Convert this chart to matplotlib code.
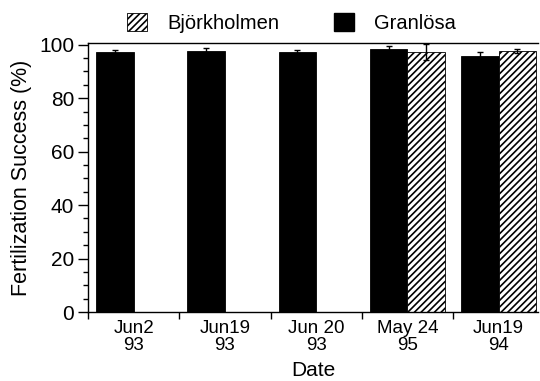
import numpy as np
import matplotlib
matplotlib.use("Agg")
import matplotlib.pyplot as plt
from matplotlib.patches import Patch
from matplotlib.ticker import MultipleLocator, FixedLocator

plt.rcParams['font.family'] = ['Liberation Sans', 'DejaVu Sans']
plt.rcParams['hatch.linewidth'] = 1.2

# donnees
dates = ["Jun2\n93", "Jun19\n93", "Jun 20\n93", "May 24\n95", "Jun19\n94"]
granlosa = [97.1, 97.5, 97.1, 98.5, 95.6]
granlosa_err = [0.8, 1.3, 1.0, 0.9, 1.7]
bjorkholmen = [np.nan, np.nan, np.nan, 97.1, 97.6]
bjorkholmen_err = [np.nan, np.nan, np.nan, 3.0, 0.8]

fig = plt.figure(figsize=(5.4, 3.81), dpi=100)
ax = fig.add_axes([0.163, 0.181, 0.833, 0.706])

x = np.arange(len(dates))
w = 0.41

ax.bar(x - w / 2, granlosa, w, color="black", edgecolor="black", linewidth=0.6,
       yerr=granlosa_err, error_kw=dict(ecolor="black", elinewidth=1.0, capsize=2.5, capthick=1.0))
ax.bar(x + w / 2, bjorkholmen, w, color="white", edgecolor="black", linewidth=0.6,
       hatch="/////", yerr=bjorkholmen_err,
       error_kw=dict(ecolor="black", elinewidth=1.0, capsize=2.5, capthick=1.0))

ax.set_xlim(-0.5, 4.43)
ax.set_ylim(0, 100.6)

ax.spines["right"].set_visible(False)
for s in ["left", "bottom", "top"]:
    ax.spines[s].set_linewidth(1.0)

ax.yaxis.set_major_locator(MultipleLocator(20))
ax.yaxis.set_minor_locator(MultipleLocator(5))
ax.tick_params(axis="y", which="major", length=7, width=1.0, labelsize=15, pad=3)
ax.tick_params(axis="y", which="minor", length=3.5, width=1.0)

ax.set_xticks(x)
ax.set_xticklabels(dates, fontsize=13.5, linespacing=1.0)
ax.xaxis.set_minor_locator(FixedLocator(np.arange(-0.5, 4.0, 1.0)))
ax.tick_params(axis="x", which="major", length=0, pad=6)
ax.tick_params(axis="x", which="minor", length=5, width=1.0)

ax.set_ylabel("Fertilization Success (%)", fontsize=15.5, labelpad=5)
ax.set_xlabel("Date", fontsize=15, labelpad=5)

handles = [Patch(facecolor="white", edgecolor="black", hatch="/////", linewidth=0.6),
           Patch(facecolor="black", edgecolor="black")]
fig.legend(handles, ["Björkholmen", "Granlösa"], loc="center", bbox_to_anchor=(0.54, 0.94),
           ncol=2, frameon=False, fontsize=14.5, handlelength=1.0, handleheight=1.0,
           handletextpad=1.0, columnspacing=2.7)

fig.savefig("out.png", dpi=100)
